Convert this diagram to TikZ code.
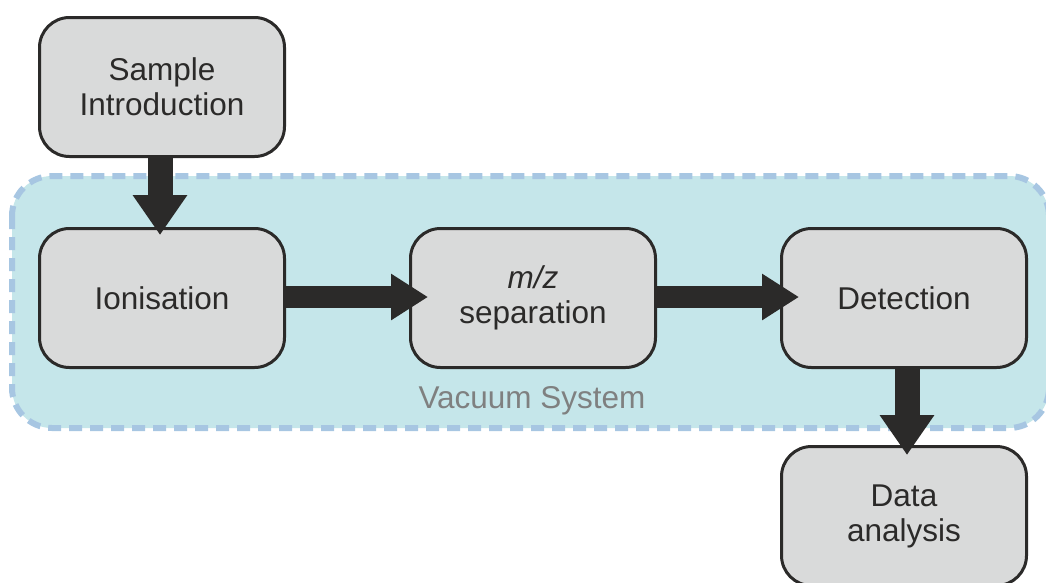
\documentclass[tikz,border=0pt]{standalone}
\usepackage{fontspec}
\setmainfont{Liberation Sans}
\usetikzlibrary{arrows.meta}
\definecolor{boxfill}{HTML}{D9DADA}
\definecolor{boxline}{HTML}{2B2A29}
\definecolor{vacfill}{HTML}{C5E6EA}
\definecolor{vacline}{HTML}{A7C6E2}
\definecolor{vactext}{HTML}{7F8080}
\tikzset{
  stepbox/.style={draw=boxline, line width=3pt, fill=boxfill, rounded corners=30pt,
    minimum width=245pt, minimum height=139pt, align=center, text=boxline,
    font=\fontsize{31.5pt}{35pt}\selectfont, inner sep=0pt},
  vflow/.style={draw=boxline, line width=25pt,
    -{Triangle[length=40pt,width=52pt]}},
  hflow/.style={draw=boxline, line width=22pt,
    -{Triangle[length=37pt,width=44pt]}},
}
\begin{document}
\begin{tikzpicture}[x=1pt,y=-1pt]
\useasboundingbox (0,0) rectangle (1046,582);
% vacuum region
\draw[fill=vacfill, draw=vacline, line width=6pt, dash pattern=on 13pt off 8pt,
  rounded corners=40pt] (12,176) rectangle (1049,428);
\node[text=vactext, font=\fontsize{31.5pt}{35pt}\selectfont] (vac) at (532,401) {Vacuum System};
% boxes
\node[stepbox] (si) at (162,87) {\raisebox{2pt}{\parbox{240pt}{\centering Sample\\Introduction}}};
\node[stepbox] (ion) at (162,298) {Ionisation};
\node[stepbox] (mz) at (533,298) {\raisebox{2pt}{\parbox{240pt}{\centering\textit{m/z}\\separation}}};
\node[stepbox] (det) at (904,298) {Detection};
\node[stepbox] (data) at (904,516) {\raisebox{2pt}{\parbox{240pt}{\centering Data\\analysis}}};
% connectors
\draw[vflow, shorten >=-8pt] ([xshift=-2pt]si.south) -- ([xshift=-2pt]ion.north);
\draw[hflow, shorten >=-19pt] ([yshift=1pt]ion.east) -- ([yshift=1pt]mz.west);
\draw[hflow, shorten >=-19pt] ([yshift=1pt]mz.east) -- ([yshift=1pt]det.west);
\draw[vflow, shorten >=-10pt] ([xshift=3pt]det.south) -- ([xshift=3pt]data.north);
\end{tikzpicture}
\end{document}
